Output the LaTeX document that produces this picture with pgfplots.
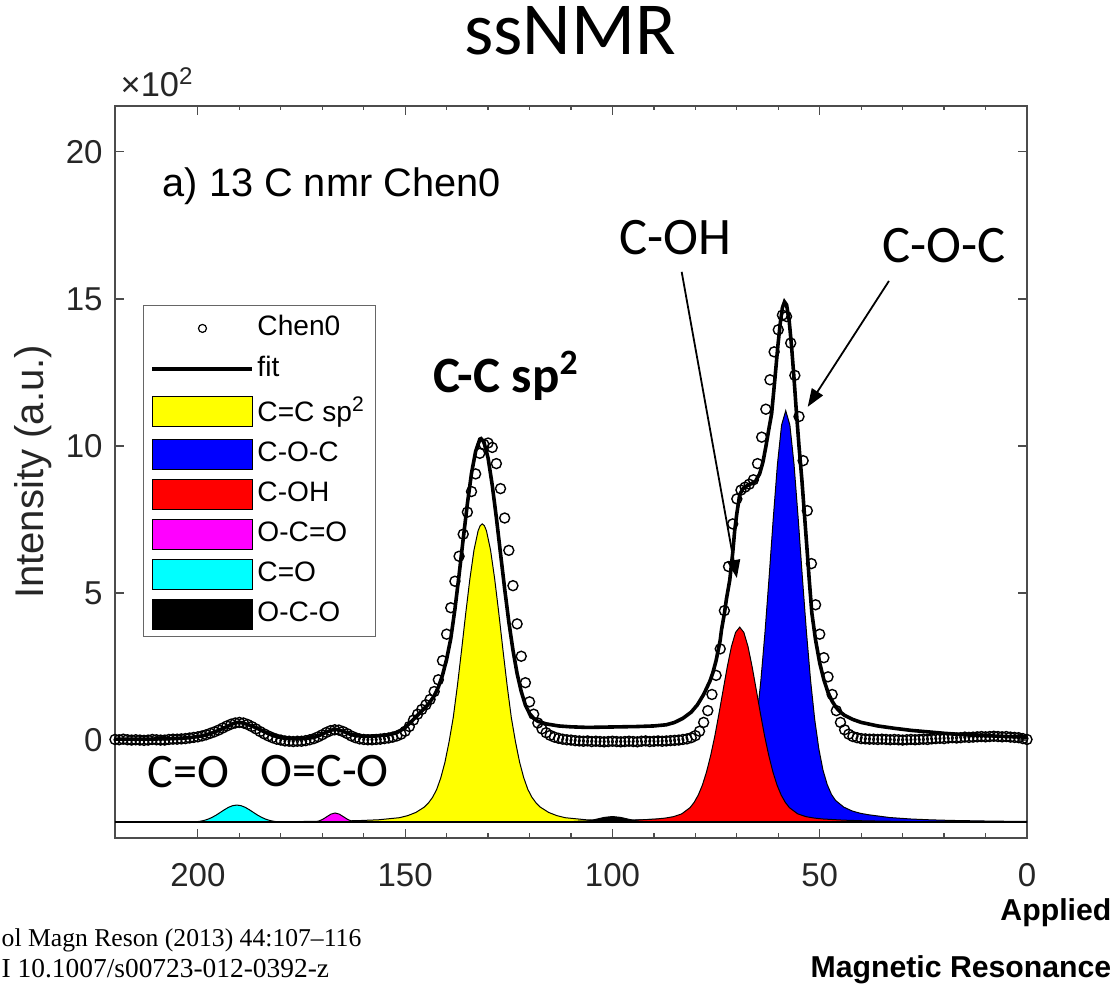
\documentclass[border=0pt]{standalone}
\usepackage{fontspec}
\setmainfont{Liberation Sans}
\newfontfamily\calibri{Carlito}
\newfontfamily\tms{Liberation Serif}
\usepackage{pgfplots}
\pgfplotsset{compat=1.18}
\usetikzlibrary{arrows.meta}

\definecolor{cY}{RGB}{255,255,0}
\definecolor{cB}{RGB}{0,0,255}
\definecolor{cR}{RGB}{255,0,0}
\definecolor{cM}{RGB}{255,0,255}
\definecolor{cC}{RGB}{0,255,255}

\pgfplotsset{
  lgline/.style={legend image code/.code={\draw[##1] (0cm,0cm) -- (1.0cm,0cm);}},
  lgmark/.style={legend image code/.code={\draw[##1,mark repeat=2,mark phase=2] plot coordinates {(0cm,0cm) (0.5cm,0cm) (1.0cm,0cm)};}},
  lgbox/.style={legend image code/.code={\draw[##1,draw=black,line width=0.01cm] (0cm,-0.15cm) rectangle (1.0cm,0.15cm);}},
  comp/.style={draw=black, line width=0.01cm, forget plot},
}

\begin{document}
\begin{tikzpicture}
\useasboundingbox (0,0) rectangle (11.18,9.85);

\begin{axis}[
  at={(1.15cm,1.47cm)}, anchor=south west,
  scale only axis, width=9.12cm, height=7.32cm,
  x dir=reverse,
  xmin=0, xmax=220, ymin=-3.33, ymax=21.56,
  xtick={0,50,...,200}, ytick={0,5,...,20},
  minor x tick num=4,
  tick align=inside,
  major tick length=0.09cm, minor tick length=0.045cm,
  axis line style={black!70, line width=0.012cm},
  tick style={black!70, line width=0.012cm},
  /pgf/number format/assume math mode=true,
  ticklabel style={font=\fontsize{9.4}{11}\selectfont, text=black!85},
  xticklabel style={yshift=-0.13cm},
  ylabel={Intensity (a.u.)},
  ylabel shift=-0.1cm,
  ylabel style={font=\fontsize{11.4}{13}\selectfont, text=black!85},
  legend cell align=left,
  legend style={at={(0.0307,0.728)}, anchor=north west,
    draw=black!60, line width=0.01cm,
    font=\fontsize{8}{9}\selectfont,
    inner xsep=0.07cm, inner ysep=0.07cm,
    row sep=0.09cm,
    nodes={inner sep=0.03cm}},
]

% fitted components, drawn on the -2.8 baseline
\addplot[comp, fill=cY] coordinates {
(71.4,-2.8) (71.4,-2.786) (81.4,-2.778) (91.4,-2.765) (101.4,-2.74) (106.4,-2.71)
(111.4,-2.64) (113.4,-2.57) (115.4,-2.46) (117.4,-2.28) (118.4,-2.14) (119.4,-1.95)
(120.4,-1.68) (121.4,-1.28) (122.4,-0.75) (123.4,-0.05) (124.4,0.77) (125.4,1.85)
(126.4,3.05) (127.4,4.30) (128.4,5.47) (129.4,6.46) (130.4,7.12) (130.9,7.29) (131.4,7.35)
(131.9,7.29) (132.4,7.12) (133.4,6.46) (134.4,5.47) (135.4,4.30) (136.4,3.05) (137.4,1.85)
(138.4,0.77) (139.4,-0.05) (140.4,-0.75) (141.4,-1.28) (142.4,-1.68) (143.4,-1.95)
(144.4,-2.14) (145.4,-2.28) (147.4,-2.46) (149.4,-2.57) (151.4,-2.64) (156.4,-2.71)
(161.4,-2.74) (171.4,-2.765) (181.4,-2.778) (191.4,-2.786) (191.4,-2.8)};

\addplot[comp, fill=cB] coordinates {
(0,-2.8) (0,-2.768) (8.2,-2.757) (18.2,-2.733) (23.2,-2.713) (28.2,-2.683) (33.2,-2.633)
(38.2,-2.54) (40.2,-2.49) (42.2,-2.41) (44.2,-2.28) (46.2,-2.05) (47.2,-1.84) (48.2,-1.51)
(49.2,-1.03) (50.2,-0.31) (51.2,0.69) (52.2,2.02) (53.2,3.67) (54.2,5.56) (55.2,7.55)
(56.2,9.38) (57.2,10.71) (58.2,11.2) (59.2,10.71) (60.2,9.38) (61.2,7.55) (62.2,5.56)
(63.2,3.67) (64.2,2.02) (65.2,0.69) (66.2,-0.31) (67.2,-1.03) (68.2,-1.51) (69.2,-1.84)
(70.2,-2.05) (72.2,-2.28) (74.2,-2.41) (76.2,-2.49) (78.2,-2.54) (83.2,-2.633) (88.2,-2.683)
(93.2,-2.713) (98.2,-2.733) (108.2,-2.757) (108.2,-2.8)};

\addplot[comp, fill=cR] coordinates {
(9.3,-2.8) (9.3,-2.786) (19.3,-2.78) (29.3,-2.769) (39.3,-2.746) (44.3,-2.723) (49.3,-2.683)
(51.3,-2.653) (53.3,-2.605) (55.3,-2.51) (57.3,-2.30) (58.3,-2.12) (59.3,-1.87) (60.3,-1.53)
(61.3,-1.08) (62.3,-0.52) (63.3,0.14) (64.3,0.90) (65.3,1.70) (66.3,2.49) (67.3,3.18)
(68.3,3.66) (69.3,3.84) (70.3,3.66) (71.3,3.18) (72.3,2.49) (73.3,1.70) (74.3,0.90)
(75.3,0.14) (76.3,-0.52) (77.3,-1.08) (78.3,-1.53) (79.3,-1.87) (80.3,-2.12) (81.3,-2.30)
(83.3,-2.51) (85.3,-2.605) (87.3,-2.653) (89.3,-2.683) (94.3,-2.723) (99.3,-2.746)
(109.3,-2.769) (109.3,-2.8)};

\addplot[comp, fill=cM] coordinates {
(160.9,-2.8) (161.9,-2.786) (162.9,-2.757) (163.9,-2.696) (164.9,-2.606) (165.9,-2.518)
(166.9,-2.48) (167.9,-2.518) (168.9,-2.606) (169.9,-2.696) (170.9,-2.757) (171.9,-2.786)
(172.9,-2.8)};

\addplot[comp, fill=cC] coordinates {
(178.6,-2.8) (180.6,-2.781) (181.6,-2.764) (182.6,-2.736) (183.6,-2.692) (184.6,-2.63)
(185.6,-2.552) (186.6,-2.461) (187.6,-2.368) (188.6,-2.286) (189.6,-2.23) (190.6,-2.21)
(191.6,-2.23) (192.6,-2.286) (193.6,-2.368) (194.6,-2.461) (195.6,-2.552) (196.6,-2.63)
(197.6,-2.692) (198.6,-2.736) (199.6,-2.764) (200.6,-2.781) (202.6,-2.8)};

\addplot[comp, fill=black] coordinates {
(90,-2.8) (92,-2.785) (94,-2.754) (96,-2.696) (98,-2.63) (100,-2.6) (102,-2.63)
(104,-2.696) (106,-2.754) (108,-2.785) (110,-2.8)};

\addplot[black, line width=0.02cm, forget plot] coordinates {(0,-2.8) (220,-2.8)};

% measured spectrum
\addplot[only marks, mark=o, mark size=0.05cm, black, line width=0.014cm, forget plot] coordinates {
(220,0.02) (219,0.01) (218,0.03) (217,0.01) (216,0.0) (215,0.01) (214,0.0) (213,-0.01)
(212,0.0) (211,0.02) (210,0.01) (209,0.0) (208,0.0) (207,0.02) (206,0.03) (205,0.03)
(204,0.04) (203,0.05) (202,0.07) (201,0.09) (200,0.11) (199,0.14) (198,0.18) (197,0.23)
(196,0.28) (195,0.34) (194,0.41) (193,0.48) (192,0.54) (191,0.58) (190,0.6) (189,0.58)
(188,0.53) (187,0.46) (186,0.38) (185,0.29) (184,0.21) (183,0.14) (182,0.08) (181,0.03)
(180,0.0) (179,-0.03) (178,-0.04) (177,-0.05) (176,-0.04) (175,-0.04) (174,-0.02) (173,0.01)
(172,0.05) (171,0.11) (170,0.18) (169,0.26) (168,0.32) (167,0.35) (166,0.34) (165,0.29)
(164,0.22) (163,0.14) (162,0.08) (161,0.04) (160,0.02) (159,0.01) (158,0.01) (157,0.02)
(156,0.03) (155,0.05) (154,0.07) (153,0.1) (152,0.14) (151,0.2) (150,0.3) (149,0.46)
(148,0.68) (147,0.88) (146,1.04) (145,1.2) (144,1.38) (143,1.65) (142,2.05) (141,2.7)
(140,3.6) (139,4.5) (138,5.4) (137,6.25) (136,7.0) (135,7.75) (134,8.45) (133,9.05)
(132,9.75) (131,10.05) (130,10.1) (129,9.95) (128,9.4) (127,8.55) (126,7.55) (125,6.45)
(124,5.25) (123,3.95) (122,2.85) (121,1.95) (120,1.3) (119,0.88) (118,0.58) (117,0.38)
(116,0.25) (115,0.16) (114,0.1) (113,0.06) (112,0.03) (111,0.01) (110,0.0) (109,-0.02)
(108,-0.03) (107,-0.04) (106,-0.03) (105,-0.05) (104,-0.04) (103,-0.05) (102,-0.06) (101,-0.05)
(100,-0.04) (99,-0.05) (98,-0.06) (97,-0.05) (96,-0.04) (95,-0.05) (94,-0.06) (93,-0.04)
(92,-0.03) (91,-0.05) (90,-0.04) (89,-0.03) (88,-0.04) (87,-0.03) (86,-0.02) (85,-0.01)
(84,0.0) (83,0.02) (82,0.04) (81,0.08) (80,0.15) (79,0.3) (78,0.6) (77,1.0)
(76,1.55) (75,2.2) (74,3.1) (73,4.4) (72,5.9) (71,7.35) (70,8.2) (69,8.5)
(68,8.6) (67,8.7) (66,8.85) (65,9.4) (64,10.3) (63,11.25) (62,12.25) (61,13.2)
(60,13.95) (59,14.45) (58,14.4) (57,13.5) (56,12.4) (55,11.0) (54,9.5) (53,7.8)
(52,6.0) (51,4.6) (50,3.6) (49,2.8) (48,2.15) (47,1.55) (46,1.0) (45,0.6)
(44,0.35) (43,0.2) (42,0.12) (41,0.08) (40,0.05) (39,0.04) (38,0.03) (37,0.03)
(36,0.02) (35,0.03) (34,0.02) (33,0.01) (32,0.02) (31,0.01) (30,0.0) (29,0.01)
(28,0.02) (27,0.01) (26,0.02) (25,0.03) (24,0.02) (23,0.04) (22,0.05) (21,0.06)
(20,0.05) (19,0.07) (18,0.08) (17,0.07) (16,0.08) (15,0.1) (14,0.09) (13,0.1)
(12,0.11) (11,0.12) (10,0.11) (9,0.12) (8,0.13) (7,0.12) (6,0.11) (5,0.12)
(4,0.1) (3,0.09) (2,0.08) (1,0.05) (0,0.02)};

% total fit
\addplot[black, line width=0.036cm, forget plot] coordinates {
(220,0.03) (212,0.03) (206,0.05) (202,0.08) (199,0.14) (197,0.22) (195,0.33) (193,0.46)
(191.5,0.56) (190.5,0.6) (189.5,0.59) (188,0.53) (186,0.42) (184,0.28) (182,0.16) (180,0.08)
(178,0.05) (176,0.04) (174,0.05) (172,0.09) (170.5,0.17) (169,0.27) (167.5,0.35) (166.5,0.36)
(165,0.3) (163.5,0.21) (162,0.15) (160,0.13) (157,0.14) (154,0.18) (152,0.25) (150,0.42)
(148.3,0.66) (146.5,0.92) (144.5,1.2) (143,1.5) (142,1.8) (141,2.2) (140,2.75) (139,3.45)
(138,4.45) (137,5.61) (136,6.84) (135,8.03) (134,9.07) (133,9.82) (132,10.23) (131.7,10.25)
(131,10.13) (130,9.59) (129,8.67) (128,7.56) (127,6.34) (126,5.14) (125,4.02) (124,3.06)
(123,2.26) (122,1.65) (121,1.19) (120,0.9) (119,0.74) (118,0.64) (116,0.55) (113,0.48)
(110,0.45) (106,0.43) (102,0.44) (98,0.45) (94,0.46) (90,0.48) (87,0.52) (85,0.6)
(83,0.74) (81,0.95) (79.5,1.2) (78,1.55) (76.5,2.0) (75.8,2.28) (75,2.7) (74,3.4)
(73.7,3.74) (73,4.3) (72.5,4.8) (71.7,5.44) (71,6.35) (70.5,7.14) (70,7.7) (69.3,8.35)
(68.5,8.55) (67.5,8.65) (66.5,8.72) (65.5,8.8) (64.5,9.05) (63.7,9.45) (63,9.97) (62.3,10.55)
(61.6,11.1) (60.8,12.3) (60.1,13.4) (59.5,14.2) (59,14.7) (58.5,14.9) (58,14.8) (57.4,14.3)
(56.8,13.4) (56.2,12.3) (55.6,11.1) (55,10.0) (54.3,8.84) (53.7,7.7) (53.1,6.56) (52.5,5.4)
(51.9,4.32) (51,3.4) (50,2.62) (49,2.05) (48,1.62) (47,1.32) (46,1.1) (45,0.95)
(44,0.84) (42,0.7) (40,0.6) (36,0.48) (32,0.4) (28,0.33) (24,0.28) (20,0.23)
(15,0.18) (10,0.15) (5,0.12) (0,0.1)};

\addlegendimage{lgmark, only marks, mark=o, mark size=0.04cm, black, line width=0.012cm}
\addlegendentry{Chen0}
\addlegendimage{lgline, black, line width=0.04cm}
\addlegendentry{fit}
\addlegendimage{lgbox, fill=cY}
\addlegendentry{C=C sp\textsuperscript{2}}
\addlegendimage{lgbox, fill=cB}
\addlegendentry{C-O-C}
\addlegendimage{lgbox, fill=cR}
\addlegendentry{C-OH}
\addlegendimage{lgbox, fill=cM}
\addlegendentry{O-C=O}
\addlegendimage{lgbox, fill=cC}
\addlegendentry{C=O}
\addlegendimage{lgbox, fill=black}
\addlegendentry{O-C-O}

% annotations
\draw[black, line width=0.018cm, -{Triangle[length=0.18cm,width=0.13cm]}] (axis cs:83.3,15.92) -- (axis cs:70.0,5.51);
\draw[black, line width=0.018cm, -{Triangle[length=0.18cm,width=0.13cm]}] (axis cs:33.3,15.61) -- (axis cs:52.9,11.33);
\end{axis}

\node[anchor=base, font=\calibri\fontsize{21.3}{24}\selectfont] at (5.70,9.30) {ssNMR};
\node[anchor=base west, inner sep=0pt, font=\fontsize{9.8}{11}\selectfont, text=black!85] at (1.20,8.88) {×10\textsuperscript{2}};
\node[anchor=base west, inner sep=0pt, font=\fontsize{11.3}{13}\selectfont] at (1.62,7.88) {a) 13 C nmr Chen0};
\node[anchor=base west, inner sep=0pt, font=\calibri\bfseries\fontsize{14.5}{16}\selectfont] at (4.33,5.92) {C-C sp\textsuperscript{2}};
\node[anchor=base, inner sep=0pt, font=\calibri\fontsize{15}{17}\selectfont] at (6.75,7.30) {C-OH};
\node[anchor=base west, inner sep=0pt, font=\calibri\fontsize{15}{17}\selectfont] at (8.82,7.22) {C-O-C};
\node[anchor=base west, inner sep=0pt, font=\calibri\fontsize{13.7}{16}\selectfont] at (1.47,1.97) {C=O};
\node[anchor=base west, inner sep=0pt, font=\calibri\fontsize{13.7}{16}\selectfont] at (2.60,1.98) {O=C-O};
\node[anchor=base west, inner sep=0pt, font=\tms\fontsize{7.3}{9}\selectfont] at (0.01,0.38) {ol Magn Reson (2013) 44:107–116};
\node[anchor=base west, inner sep=0pt, font=\tms\fontsize{7.8}{9}\selectfont] at (0.01,0.08) {I 10.1007/s00723-012-0392-z};
\node[anchor=base east, inner sep=0pt, font=\bfseries\fontsize{8.6}{10}\selectfont] at (11.12,0.65) {Applied};
\node[anchor=base east, inner sep=0pt, font=\bfseries\fontsize{8.6}{10}\selectfont] at (11.12,0.08) {Magnetic Resonance};
\end{tikzpicture}
\end{document}
